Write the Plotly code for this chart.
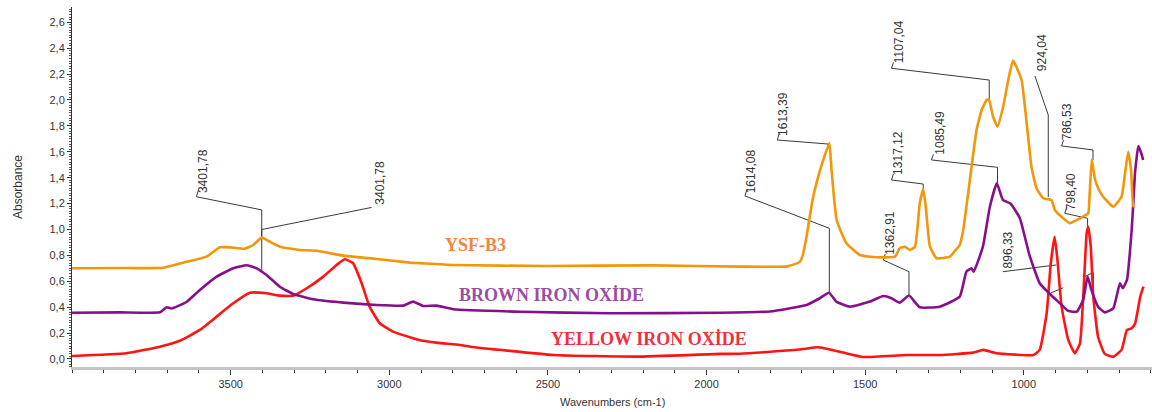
import plotly.graph_objects as go

# ---------------- data ----------------
ysf_wn = [4000, 3850, 3712, 3639, 3576, 3534, 3502, 3455, 3429, 3402, 3381, 3345, 3282, 3229,
          3145, 3040, 2935, 2903, 2798, 2504, 2168, 1895, 1748, 1738, 1706, 1697, 1685, 1676,
          1665, 1650, 1632, 1613, 1606, 1590, 1559, 1517, 1464, 1406, 1391, 1375, 1359, 1343,
          1328, 1317, 1309, 1296, 1275, 1233, 1215, 1202, 1191, 1170, 1149, 1133, 1117, 1110,
          1097, 1083, 1065, 1049, 1034, 1007, 991, 976, 960, 939, 923, 913, 902, 876, 855,
          823, 813, 797, 793, 786, 776, 766, 750, 718, 692, 681, 671, 662, 655, 650]
ysf_abs = [0.700, 0.702, 0.705, 0.750, 0.790, 0.862, 0.862, 0.852, 0.880, 0.937, 0.911, 0.867, 0.842, 0.836,
           0.798, 0.772, 0.744, 0.740, 0.726, 0.718, 0.723, 0.713, 0.713, 0.720, 0.750, 0.800, 0.944, 1.080,
           1.240, 1.390, 1.537, 1.667, 1.460, 1.073, 0.893, 0.803, 0.785, 0.790, 0.855, 0.867, 0.842, 0.867,
           1.202, 1.310, 1.176, 0.867, 0.778, 0.790, 0.840, 0.880, 0.996, 1.382, 1.768, 1.923, 2.000, 2.005,
           1.871, 1.794, 1.950, 2.155, 2.305, 2.154, 1.820, 1.485, 1.318, 1.241, 1.233, 1.228, 1.150, 1.086, 1.048,
           1.086, 1.100, 1.125, 1.250, 1.540, 1.390, 1.320, 1.253, 1.176, 1.253, 1.434, 1.600, 1.460, 1.180, 1.180]

brown_wn = [4000, 3850, 3723, 3702, 3686, 3639, 3597, 3544, 3492, 3450, 3418, 3387, 3345, 3303,
            3240, 3145, 3040, 2956, 2925, 2893, 2851, 2798, 2588, 2305, 1958, 1800, 1685, 1643,
            1614, 1591, 1548, 1485, 1443, 1417, 1391, 1362, 1328, 1265, 1202, 1181, 1165, 1158,
            1129, 1107, 1085, 1066, 1042, 1013, 982, 950, 917, 886, 860, 833, 813, 799, 787,
            766, 745, 718, 697, 688, 675, 660, 649, 639, 628, 624]
brown_abs = [0.357, 0.360, 0.360, 0.400, 0.390, 0.440, 0.533, 0.636, 0.700, 0.724, 0.700, 0.649, 0.558, 0.502,
             0.461, 0.435, 0.417, 0.412, 0.443, 0.409, 0.412, 0.384, 0.365, 0.353, 0.357, 0.367, 0.417, 0.469,
             0.512, 0.443, 0.404, 0.443, 0.486, 0.469, 0.435, 0.490, 0.399, 0.404, 0.481, 0.674, 0.700, 0.674,
             0.867, 1.176, 1.357, 1.228, 1.200, 1.090, 0.800, 0.585, 0.500, 0.430, 0.371, 0.365, 0.456, 0.636, 0.533,
             0.404, 0.360, 0.391, 0.585, 0.546, 0.610, 0.996, 1.450, 1.645, 1.575, 1.537]

yellow_wn = [4000, 3828, 3723, 3660, 3597, 3544, 3492, 3439, 3387, 3345, 3303, 3260, 3208, 3166,
             3140, 3114, 3087, 3062, 3030, 2988, 2925, 2903, 2851, 2777, 2745, 2483, 2220, 1958,
             1895, 1748, 1700, 1648, 1580, 1507, 1370, 1265, 1160, 1128, 1086, 970, 950, 928,
             915, 903, 895, 881, 860, 839, 823, 810, 802, 797, 789, 781, 766, 745, 718, 692,
             675, 660, 649, 633, 623]
yellow_abs = [0.023, 0.044, 0.095, 0.141, 0.224, 0.327, 0.430, 0.512, 0.507, 0.489, 0.489, 0.546, 0.636, 0.726,
              0.770, 0.739, 0.585, 0.404, 0.276, 0.211, 0.160, 0.145, 0.126, 0.108, 0.095, 0.031, 0.018, 0.039,
              0.040, 0.065, 0.075, 0.090, 0.056, 0.015, 0.031, 0.031, 0.049, 0.070, 0.044, 0.031, 0.070, 0.353,
              0.739, 0.944, 0.790, 0.404, 0.147, 0.044, 0.121, 0.610, 0.970, 1.020, 0.867, 0.481, 0.172, 0.039, 0.018, 0.070,
              0.224, 0.237, 0.276, 0.481, 0.558]

series_names = ["YSF-B3", "BROWN IRON OXİDE", "YELLOW IRON OXİDE"]
x_tick_vals = [3500, 3000, 2500, 2000, 1500, 1000]

# peak labels
peak_labels = ["3401,78", "3401,78", "1614,08", "1613,39", "1362,91", "1317,12",
               "1107,04", "1085,49", "924,04", "786,53", "798,40", "896,33"]

# ---------------- layout of the peak labels (text anchor + leader path) ----------------
label_pos = [(3587, 1.266), (3030, 1.174), (1859, 1.266), (1759, 1.707), (1422, 0.788), (1397, 1.405),
             (1394, 2.270), (1265, 1.560), (944, 2.208), (861, 1.676), (849, 1.135), (1050, 0.687)]
leader_paths = [
    [(3602, 1.300), (3608, 1.253), (3402, 1.151), (3402, 0.687)],
    [(3402, 0.937), (3402, 1.000), (3056, 1.170)],
    [(1873, 1.305), (1879, 1.259), (1613, 1.009), (1613, 0.517)],
    [(1771, 1.740), (1777, 1.691), (1617, 1.660), (1617, 1.640)],
    [(1437, 0.810), (1443, 0.764), (1362, 0.674), (1362, 0.494)],
    [(1411, 1.430), (1417, 1.382), (1317, 1.351), (1317, 1.305)],
    [(1411, 2.290), (1417, 2.245), (1109, 2.154), (1109, 2.000)],
    [(1285, 1.580), (1291, 1.537), (1083, 1.480), (1083, 1.357)],
    [(965, 2.185), (923, 1.884), (923, 1.249)],
    [(875, 1.690), (881, 1.645), (782, 1.614), (782, 1.537)],
    [(865, 1.170), (871, 1.125), (799, 1.086), (799, 1.009)],
    [(1066, 0.674), (898, 0.726)],
    [(915, 0.510), (876, 0.550)],
    [(813, 0.630), (781, 0.668), (781, 0.560)],
]

series_colors = ["#F4960A", "#87108A", "#FF1414"]
label_colors = ["#F2863A", "#9B4DA3", "#F0303A"]
name_pos = [(2728, 0.877), (2490, 0.494), (2182, 0.154)]

fig = go.Figure()

# leader lines
for path in leader_paths:
    fig.add_trace(go.Scatter(
        x=[p[0] for p in path], y=[p[1] for p in path], mode="lines",
        line=dict(color="#3a3a3a", width=1), hoverinfo="skip", showlegend=False))

for wn, ab, col, nm in [(yellow_wn, yellow_abs, series_colors[2], series_names[2]),
                        (brown_wn, brown_abs, series_colors[1], series_names[1]),
                        (ysf_wn, ysf_abs, series_colors[0], series_names[0])]:
    fig.add_trace(go.Scatter(x=wn, y=ab, mode="lines", name=nm,
                             line=dict(color=col, width=2.6, shape="spline", smoothing=0.4),
                             showlegend=False))

annotations = []
for txt, (px, py) in zip(peak_labels, label_pos):
    annotations.append(dict(x=px, y=py, xref="x", yref="y", text=txt, showarrow=False,
                            textangle=-90, xanchor="center", yanchor="bottom",
                            font=dict(family="Liberation Sans, Arial", size=12, color="#333333")))
for nm, (px, py), col in zip(series_names, name_pos, label_colors):
    annotations.append(dict(x=px, y=py, xref="x", yref="y", text="<b>" + nm + "</b>",
                            showarrow=False, xanchor="center", yanchor="middle",
                            font=dict(family="Liberation Serif, Times New Roman", size=18, color=col)))
annotations.append(dict(x=-0.05, y=0.5, xref="paper", yref="paper", text="Absorbance",
                        showarrow=False, textangle=-90, xanchor="center", yanchor="middle",
                        font=dict(family="Liberation Sans, Arial", size=12, color="#333333")))
annotations.append(dict(x=0.5, y=-0.097, xref="paper", yref="paper", text="Wavenumbers (cm-1)",
                        showarrow=False, xanchor="center", yanchor="middle",
                        font=dict(family="Liberation Sans, Arial", size=11, color="#333333")))

fig.update_layout(
    width=1152, height=412,
    margin=dict(l=72, r=0, t=7, b=45, autoexpand=False),
    paper_bgcolor="white", plot_bgcolor="white",
    separators=",.",
    showlegend=False,
    annotations=annotations,
    xaxis=dict(range=[4000, 596], tickmode="array", tickvals=x_tick_vals,
               showgrid=False, zeroline=False, showline=True, linecolor="#c4c4c4", linewidth=3,
               ticks="outside", ticklen=5, tickwidth=1, tickcolor="#333333",
               minor=dict(tickmode="linear", tick0=0, dtick=100, ticks="outside", ticklen=3,
                          tickcolor="#333333", showgrid=False),
               tickfont=dict(family="Liberation Sans, Arial", size=11, color="#333333")),
    yaxis=dict(range=[-0.062, 2.718], tickmode="linear", tick0=0, dtick=0.2, tickformat=".1f",
               showgrid=False, zeroline=False, showline=True, linecolor="#333333", linewidth=1,
               ticks="outside", ticklen=4, tickcolor="#333333",
               minor=dict(tickmode="linear", tick0=0, dtick=0.02, ticks="outside", ticklen=2,
                          tickcolor="#555555", showgrid=False),
               tickfont=dict(family="Liberation Sans, Arial", size=11, color="#333333")),
)

fig.write_html("out.html", config={"displayModeBar": False},
               post_script="document.body.style.margin='0';document.body.style.overflow='hidden';")
